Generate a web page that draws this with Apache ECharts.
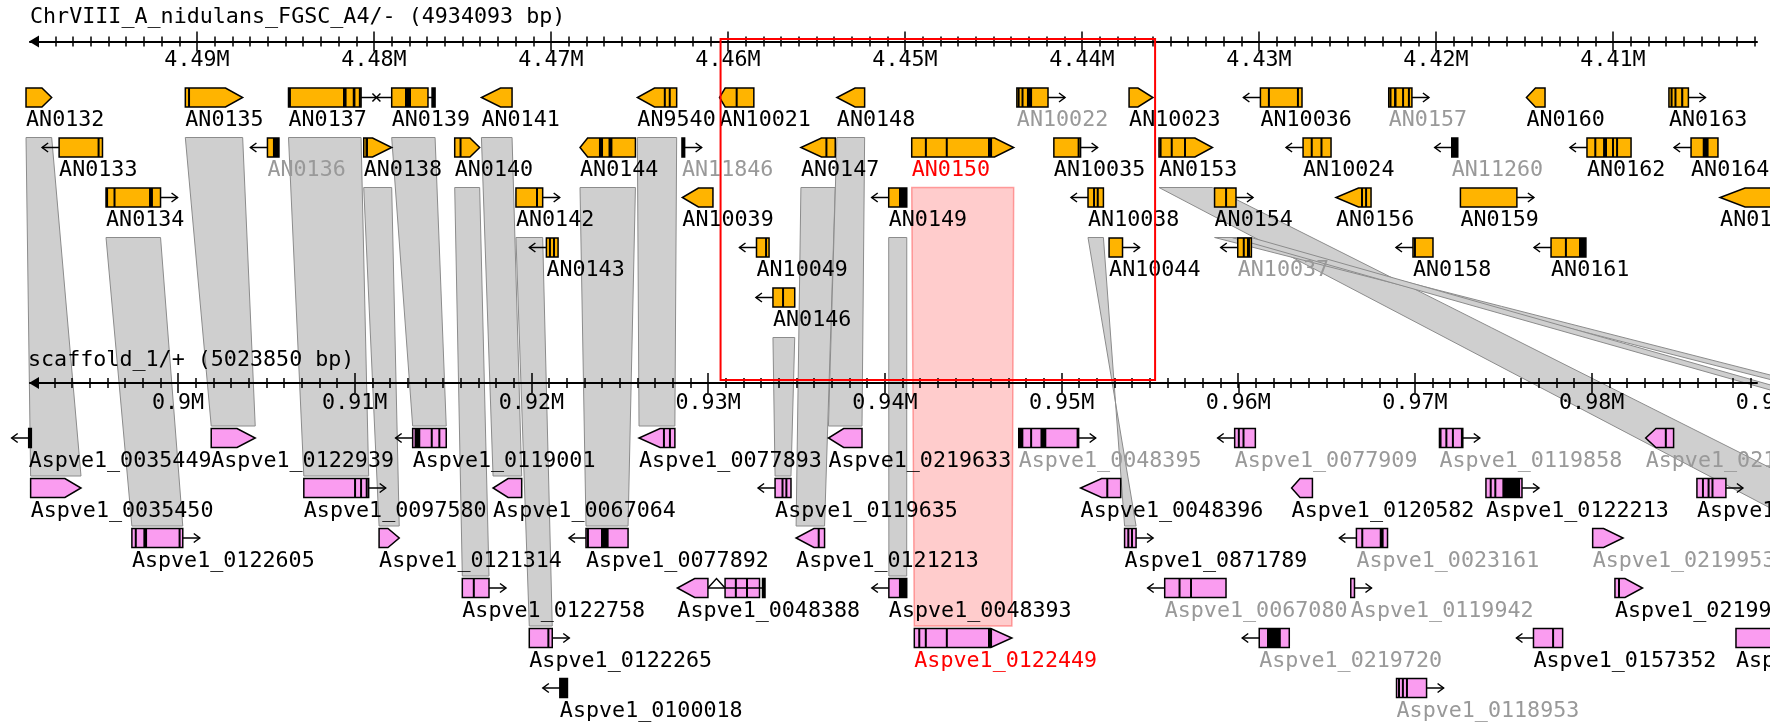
<!DOCTYPE html>
<html><head><meta charset="utf-8">
<script src="https://cdn.jsdelivr.net/npm/echarts@6/dist/echarts.min.js"></script>
<style>html,body{margin:0;padding:0;background:#fff}#c{width:1770px;height:725px}</style>
</head><body><div id="c"></div>
<script>
// ---------------- data (positions in kb) ----------------
const topTitle = 'ChrVIII_A_nidulans_FGSC_A4/- (4934093 bp)';
const bottomTitle = 'scaffold_1/+ (5023850 bp)';
const topRange = [4401.864, 4499.435];
const bottomRange = [891.624, 989.36];
const bottomLabelRange = [891.624, 990.09];
const topTicks = [4410, 4420, 4430, 4440, 4450, 4460, 4470, 4480, 4490];
const bottomTicks = [900, 910, 920, 930, 940, 950, 960, 970, 980];
const bottomTickLabels = [900, 910, 920, 930, 940, 950, 960, 970, 980, 990];

// [name, row, tail, head, tipStart, style, marks, labelColor, extraBlocks]
const topGenes = [
 ['AN0132',1,4499.66,4498.21,4498.76,'tip',[],'k'],
 ['AN0135',1,4490.66,4487.42,4488.39,'tip',[4490.45],'k'],
 ['AN0137',1,4484.83,4480.73,null,'box',[4484.75,[4481.75,4481.55],[4481.2,4481.05],4480.8],'k'],
 ['AN0139',1,4479.0,4476.95,null,'box',[[4478.25,4477.91],[4476.72,4476.55]],'k',[[4476.72,4476.55,'l']]],
 ['AN0141',1,4472.2,4473.93,4472.85,'tip',[],'k'],
 ['AN9540',1,4462.9,4465.12,4464.15,'tip',[4463.57,4463.29],'k'],
 ['AN10021',1,4458.54,4460.48,4460.16,'tip',[4459.51],'k'],
 ['AN0148',1,4452.28,4453.85,4452.82,'tip',[],'k'],
 ['AN10022',1,4443.68,4441.92,null,'arrow',[4443.58,4443.36,[4443.11,4442.82]],'g'],
 ['AN10023',1,4437.34,4435.99,4436.84,'tip',[],'k'],
 ['AN10036',1,4427.57,4429.92,null,'arrow',[4429.44,4427.8],'k'],
 ['AN0157',1,4422.67,4421.36,null,'arrow',[4422.57,[4422.37,4422.23],4421.86,4421.53],'g'],
 ['AN0160',1,4413.84,4414.89,4414.38,'tip',[],'k'],
 ['AN0163',1,4406.84,4405.74,null,'arrow',[4406.69,4406.47,[4406.15,4406.03]],'k'],
 ['AN0133',2,4495.34,4497.79,null,'arrow',[4495.56],'k'],
 ['AN0136',2,4485.37,4486.02,null,'arrow',[[4485.71,4485.37]],'g'],
 ['AN0138',2,4480.58,4479.0,4480.08,'tip',[[4480.48,4480.34]],'k'],
 ['AN0140',2,4475.44,4474.03,4474.58,'tip',[4475.11],'k'],
 ['AN0144',2,4465.23,4468.36,4467.93,'tip',[[4467.29,4467.06],[4466.75,4466.53]],'k'],
 ['AN11846',2,4462.6,4462.45,null,'arrow',[[4462.6,4462.45]],'g'],
 ['AN0147',2,4453.94,4455.88,4454.72,'tip',[4454.44],'k'],
 ['AN0150',2,4449.62,4443.86,4444.94,'tip',[4448.82,4447.64,[4445.31,4445.08]],'r'],
 ['AN10035',2,4441.59,4440.08,null,'arrow',[4440.19],'k'],
 ['AN0153',2,4435.65,4432.63,4433.62,'tip',[4435.56,4434.93,4434.18],'k'],
 ['AN10024',2,4425.93,4427.51,null,'arrow',[4427.02,4426.47],'k'],
 ['AN11260',2,4418.77,4419.11,null,'arrow',[[4418.77,4419.11]],'g'],
 ['AN0162',2,4408.98,4411.47,null,'arrow',[4411.0,[4410.56,4410.34],4410.0,4409.77],'k'],
 ['AN0164',2,4404.07,4405.59,null,'arrow',[[4404.93,4404.6]],'k'],
 ['AN0134',3,4495.14,4492.06,null,'arrow',[4495.08,4494.66,[4492.71,4492.49]],'k'],
 ['AN0142',3,4471.98,4470.47,null,'arrow',[4470.79],'k'],
 ['AN10039',3,4460.85,4462.58,4461.67,'tip',[],'k'],
 ['AN0149',3,4449.9,4450.92,null,'arrow',[[4450.34,4449.9]],'k'],
 ['AN10038',3,4438.79,4439.66,null,'arrow',[4439.32,4439.11],'k'],
 ['AN0154',3,4432.51,4431.3,null,'arrow',[4431.86],'k'],
 ['AN0156',3,4423.67,4425.65,4424.38,'tip',[4424.18,4423.95],'k'],
 ['AN0159',3,4418.62,4415.43,null,'arrow',[],'k'],
 ['AN0165',3,4400.56,4403.95,4402.54,'tip',[],'k'],
 ['AN0143',4,4469.6,4470.26,null,'arrow',[4470.06,4469.83],'k'],
 ['AN10049',4,4457.68,4458.39,null,'arrow',[4457.85],'k'],
 ['AN10044',4,4438.47,4437.71,null,'arrow',[],'k'],
 ['AN10037',4,4430.43,4431.2,null,'arrow',[4430.86,[4430.68,4430.51]],'g'],
 ['AN0158',4,4420.17,4421.3,null,'arrow',[4421.19],'k'],
 ['AN0161',4,4411.53,4413.5,null,'arrow',[4412.66,[4411.92,4411.53]],'k'],
 ['AN0146',5,4456.23,4457.46,null,'arrow',[4456.89],'k']
];

const bottomGenes = [
 ['Aspve1_0035449',1,891.70,891.55,null,'arrow',[[891.70,891.55]],'k'],
 ['Aspve1_0122939',1,901.88,904.37,903.34,'tip',[],'k'],
 ['Aspve1_0119001',1,915.18,913.28,null,'arrow',[[913.39,913.71],914.36,914.79],'k'],
 ['Aspve1_0077893',1,928.12,926.09,927.28,'tip',[927.5,927.84],'k'],
 ['Aspve1_0219633',1,938.71,936.81,937.67,'tip',[],'k'],
 ['Aspve1_0048395',1,947.58,950.97,null,'arrow',[[947.58,947.84],948.28,[948.81,949.14],950.91],'g'],
 ['Aspve1_0077909',1,960.97,959.8,null,'arrow',[[959.98,960.09],960.3],'g'],
 ['Aspve1_0119858',1,971.39,972.71,null,'arrow',[971.45,971.78,972.15,972.66],'g'],
 ['Aspve1_0219637',1,984.64,983.06,983.64,'tip',[984.2],'g'],
 ['Aspve1_0035450',2,891.66,894.51,893.6,'tip',[],'k'],
 ['Aspve1_0097580',2,907.12,910.79,null,'arrow',[910.02,910.36,910.68],'k'],
 ['Aspve1_0067064',2,919.45,917.83,918.68,'tip',[],'k'],
 ['Aspve1_0119635',2,934.69,933.79,null,'arrow',[934.21,934.43],'k'],
 ['Aspve1_0048396',2,953.35,951.08,952.27,'tip',[952.59],'k'],
 ['Aspve1_0120582',2,964.2,963.02,963.5,'tip',[],'k'],
 ['Aspve1_0122213',2,974.02,976.06,null,'arrow',[974.29,974.55,[974.95,975.95]],'k'],
 ['Aspve1_0122215',2,985.96,987.6,null,'arrow',[986.3,986.62,986.84],'k'],
 ['Aspve1_0122605',3,897.39,900.27,null,'arrow',[897.61,[898.04,898.25],900.09],'k'],
 ['Aspve1_0121314',3,911.38,912.52,911.88,'tip',[],'k'],
 ['Aspve1_0077892',3,925.47,923.09,null,'arrow',[923.2,[923.94,924.37]],'k'],
 ['Aspve1_0121213',3,936.59,934.98,935.99,'tip',[936.26],'k'],
 ['Aspve1_0871789',3,953.57,954.22,null,'arrow',[953.78,953.99],'k'],
 ['Aspve1_0023161',3,968.45,966.69,null,'arrow',[967.02,[968.01,968.23]],'g'],
 ['Aspve1_0219953',3,980.06,981.78,980.68,'tip',[],'g'],
 ['Aspve1_0122758',4,916.09,917.6,null,'arrow',[916.74],'k'],
 ['Aspve1_0048388',4,929.99,928.26,929.24,'tip',[931.57,932.2,[933.08,933.22]],'k',[[930.96,932.91,'v'],[933.08,933.22,'l']]],
 ['Aspve1_0048393',4,941.24,940.23,null,'arrow',[[940.8,941.24]],'k'],
 ['Aspve1_0067080',4,959.31,955.84,null,'arrow',[956.68,957.33],'g'],
 ['Aspve1_0119942',4,966.37,966.58,null,'arrow',[],'g'],
 ['Aspve1_0219954',4,981.32,982.88,981.89,'tip',[981.55],'k'],
 ['Aspve1_0122265',5,919.88,921.18,null,'arrow',[920.96],'k'],
 ['Aspve1_0122449',5,941.67,947.19,946.0,'tip',[941.95,942.32,943.51,[945.84,946.07]],'r'],
 ['Aspve1_0219720',5,962.89,961.19,null,'arrow',[[961.63,962.41]],'g'],
 ['Aspve1_0157352',5,978.36,976.71,null,'arrow',[977.82],'k'],
 ['Aspve1_0157353',5,988.17,990.66,null,'box',[],'k'],
 ['Aspve1_0100018',6,922.04,921.61,null,'arrow',[[922.04,921.61]],'k'],
 ['Aspve1_0118953',6,968.96,970.66,null,'arrow',[969.1,969.32,969.55],'g']
];

// connectors between neighbouring top genes [kbA, kbB, row]
const topLinks = [[4480.73, 4479.0, 1]];

// synteny bands: [top gene | [kbA,kbB,row], bottom gene | [kbA,kbB,row], inverted]
const bands = [
 ['AN0132','Aspve1_0035450',0],
 ['AN0134','Aspve1_0122605',0],
 ['AN0135','Aspve1_0122939',0],
 ['AN0137','Aspve1_0097580',0],
 ['AN0138','Aspve1_0121314',0],
 ['AN0139','Aspve1_0119001',0],
 ['AN0140','Aspve1_0122758',0],
 ['AN0141','Aspve1_0067064',0],
 ['AN0142','Aspve1_0122265',0],
 ['AN0144','Aspve1_0077892',0],
 ['AN9540','Aspve1_0077893',0],
 ['AN0146','Aspve1_0119635',0],
 ['AN0147','Aspve1_0121213',0],
 ['AN0148','Aspve1_0219633',0],
 ['AN0149','Aspve1_0048393',0],
 ['AN10038','Aspve1_0871789',1],
 ['AN0153',[992.05,996.66,3],0],
 [[4432.51,4431.52,3],[1000.4,1001.4,1],0],
 [[4431.52,4430.45,3],[997.3,998.3,1],0]
];
const highlight = ['AN0150','Aspve1_0122449'];
const redBox = [4460.42, 4435.87];

// ---------------- styling ----------------
const FF = '"DejaVu Sans Mono", monospace';
const FS = 21.7;
const COLORS = {k:'#000000', g:'#999999', r:'#ff0000'};
const TOP_FILL = '#ffb400', BOT_FILL = '#fa9cf0';
const H = 9.5;

const topMinor = [], bottomMinor = [];
for (let v = 4402; v <= 4498; v++) topMinor.push(v);
for (let v = 893; v <= 989; v++) bottomMinor.push(v);

const fmt = v => parseFloat((v / 1000).toFixed(2)) + 'M';

function renderGene(genes, fill) {
  return function (params, api) {
    const g = genes[params.dataIndex];
    const name = g[0], row = g[1], tail = g[2], head = g[3], tip = g[4], style = g[5];
    const marks = g[6] || [], lc = g[7], extra = g[8] || [];
    const px = v => api.coord([v, row])[0];
    const yc = api.coord([tail, row])[1];
    const xt = px(tail), xh = px(head);
    const d = xh >= xt ? 1 : -1;
    const kids = [];
    const lo0 = Math.min(xt, xh), hi0 = Math.max(xt, xh);
    let minX = lo0;
    extra.forEach(b => {
      const xa = px(b[0]), xb = px(b[1]);
      const lo = Math.min(xa, xb), hi = Math.max(xa, xb);
      minX = Math.min(minX, lo);
      let j1, j2;
      if (lo >= hi0) { j1 = hi0; j2 = lo; } else { j1 = hi; j2 = lo0; }
      if (b[2] === 'v') kids.push({type:'polyline', shape:{points:[[j1,yc],[(j1+j2)/2,yc-H],[j2,yc]]}, style:{stroke:'#000',lineWidth:1.5,fill:null}});
      else kids.push({type:'line', shape:{x1:j1,y1:yc,x2:j2,y2:yc}, style:{stroke:'#000',lineWidth:1.5}});
      kids.push({type:'rect', shape:{x:lo,y:yc-H,width:hi-lo,height:2*H}, style:{fill:fill,stroke:'#000',lineWidth:1.5}});
    });
    let pts;
    if (tip != null) {
      const xs = px(tip);
      pts = [[xt,yc-H],[xs,yc-H],[xh,yc],[xs,yc+H],[xt,yc+H]];
    } else pts = [[xt,yc-H],[xh,yc-H],[xh,yc+H],[xt,yc+H]];
    kids.push({type:'polygon', shape:{points:pts}, style:{fill:fill, stroke:'#000', lineWidth:1.5}});
    marks.forEach(m => {
      if (Array.isArray(m)) {
        const a = px(m[0]), b = px(m[1]);
        kids.push({type:'rect', shape:{x:Math.min(a,b), y:yc-H, width:Math.max(Math.abs(b-a),1.5), height:2*H}, style:{fill:'#000'}});
      } else {
        const x = px(m);
        kids.push({type:'line', shape:{x1:x,y1:yc-H,x2:x,y2:yc+H}, style:{stroke:'#000', lineWidth:2}});
      }
    });
    if (style === 'arrow') {
      const x1 = xh + d * 17;
      kids.push({type:'line', shape:{x1:xh,y1:yc,x2:x1,y2:yc}, style:{stroke:'#000',lineWidth:1.5}});
      kids.push({type:'polyline', shape:{points:[[x1-d*6,yc-4.5],[x1,yc],[x1-d*6,yc+4.5]]}, style:{stroke:'#000',lineWidth:1.5,fill:null}});
    }
    kids.push({type:'text', style:{text:name, x:minX, y:yc+23, font:FS + 'px ' + FF, fill:COLORS[lc],
      textAlign:'left', textVerticalAlign:'middle', align:'left', verticalAlign:'middle'}});
    return {type:'group', children:kids};
  };
}

function mkAxis(gi, rng, inv, off, o) {
  return Object.assign({type:'value', gridIndex:gi, min:rng[0], max:rng[1], inverse:inv, position:'top', offset:off, z:2,
    splitLine:{show:false}, axisLine:{show:false, onZero:false}, axisTick:{show:false}, axisLabel:{show:false}}, o);
}
const tickStyle = {color:'#000', width:1.5};
const lineAx = {show:true, onZero:false, symbol:['triangle','none'], symbolSize:[12,10], symbolOffset:[4,0], lineStyle:{color:'#000', width:2}};
const labelStyle = {show:true, inside:true, margin:8, formatter:fmt, color:'#000', fontFamily:FF, fontSize:FS};

const gTop = {left:30, top:47.5, width:1727, height:300, outerBoundsMode:'none', containLabel:false};
const gBot = {left:30, top:388, width:1727, height:300, outerBoundsMode:'none', containLabel:false};
const gBotWide = {left:30, top:388, width:1740, height:300, outerBoundsMode:'none', containLabel:false};

const xAxis = [
  mkAxis(0, topRange, true, 6, {axisLine:lineAx, axisTick:{show:true, inside:false, length:10, customValues:topTicks, lineStyle:tickStyle}}),
  mkAxis(1, topRange, true, 6, {axisTick:{show:true, inside:true, length:10, customValues:topTicks, lineStyle:tickStyle},
    axisLabel:Object.assign({customValues:topTicks}, labelStyle)}),
  mkAxis(2, topRange, true, 6, {axisTick:{show:true, inside:false, length:5, customValues:topMinor, lineStyle:tickStyle}}),
  mkAxis(3, topRange, true, 6, {axisTick:{show:true, inside:true, length:5, customValues:topMinor, lineStyle:tickStyle}}),
  mkAxis(4, bottomRange, false, 5, {axisLine:lineAx, axisTick:{show:true, inside:false, length:10, customValues:bottomTicks, lineStyle:tickStyle}}),
  mkAxis(5, bottomLabelRange, false, 5, {axisTick:{show:true, inside:true, length:10, customValues:bottomTicks, lineStyle:tickStyle},
    axisLabel:Object.assign({customValues:bottomTickLabels}, labelStyle, {margin:9})}),
  mkAxis(6, bottomRange, false, 5, {axisTick:{show:true, inside:false, length:5, customValues:bottomMinor, lineStyle:tickStyle}}),
  mkAxis(7, bottomRange, false, 5, {axisTick:{show:true, inside:true, length:5, customValues:bottomMinor, lineStyle:tickStyle}})
];
const yAxis = [0,1,2,3,4,5,6,7].map(i => ({type:'value', gridIndex:i, min:0, max:6, inverse:true, show:false}));

let bandPolys = [];

const option = {
  animation:false,
  backgroundColor:'#ffffff',
  title:[
    {text:topTitle, left:30, top:5, padding:0, textStyle:{fontFamily:FF, fontSize:FS, fontWeight:'normal', color:'#000', lineHeight:24}},
    {text:bottomTitle, left:28, top:348, padding:0, textStyle:{fontFamily:FF, fontSize:FS, fontWeight:'normal', color:'#000', lineHeight:24}}
  ],
  grid:[gTop,gTop,gTop,gTop,gBot,gBotWide,gBot,gBot],
  xAxis:xAxis,
  yAxis:yAxis,
  series:[
    {id:'bands', type:'custom', coordinateSystem:'none', z:1, silent:true, data:[],
      renderItem:(params) => {
        const b = bandPolys[params.dataIndex];
        return {type:'polygon', shape:{points:b.pts},
          style: b.hl ? {fill:'rgba(255,0,0,0.2)', stroke:'rgba(255,60,60,0.45)', lineWidth:1.5}
                      : {fill:'#cfcfcf', stroke:'#8c8c8c', lineWidth:1}};
      }},
    {id:'links', type:'custom', xAxisIndex:0, yAxisIndex:0, z:3, silent:true,
      data:topLinks.map(l => [l[0], l[2]]),
      renderItem:(params, api) => {
        const l = topLinks[params.dataIndex];
        const a = api.coord([l[0], l[2]]), b = api.coord([l[1], l[2]]);
        const m = (a[0] + b[0]) / 2, y = a[1];
        return {type:'group', children:[
          {type:'line', shape:{x1:a[0],y1:y,x2:b[0],y2:y}, style:{stroke:'#000',lineWidth:1.5}},
          {type:'line', shape:{x1:m-4,y1:y-4,x2:m+4,y2:y+4}, style:{stroke:'#000',lineWidth:1.5}},
          {type:'line', shape:{x1:m-4,y1:y+4,x2:m+4,y2:y-4}, style:{stroke:'#000',lineWidth:1.5}}
        ]};
      }},
    {id:'topGenes', type:'custom', xAxisIndex:0, yAxisIndex:0, z:4, silent:true,
      data:topGenes.map(g => [g[2], g[1]]), encode:{x:0, y:1}, renderItem:renderGene(topGenes, TOP_FILL)},
    {id:'bottomGenes', type:'custom', xAxisIndex:4, yAxisIndex:4, z:4, silent:true,
      data:bottomGenes.map(g => [g[2], g[1]]), encode:{x:0, y:1}, renderItem:renderGene(bottomGenes, BOT_FILL)},
    {id:'redBox', type:'custom', xAxisIndex:0, yAxisIndex:0, z:6, silent:true,
      data:[[redBox[0], 0]],
      renderItem:(params, api) => {
        const p1 = api.coord([redBox[0], -0.17]), p2 = api.coord([redBox[1], 6.65]);
        return {type:'rect', shape:{x:Math.min(p1[0],p2[0]), y:p1[1], width:Math.abs(p2[0]-p1[0]), height:p2[1]-p1[1]},
          style:{fill:null, stroke:'#ff0000', lineWidth:2}};
      }}
  ]
};

const chart = echarts.init(document.getElementById('c'), null, {renderer:'canvas', width:1770, height:725});
chart.setOption(option);

const TOPF = {xAxisIndex:0, yAxisIndex:0}, BOTF = {xAxisIndex:4, yAxisIndex:4};
function spanOf(spec, genes) {
  if (typeof spec === 'string') {
    const g = genes.find(x => x[0] === spec);
    const vals = [g[2], g[3]];
    (g[8] || []).forEach(b => vals.push(b[0], b[1]));
    return [Math.min.apply(null, vals), Math.max.apply(null, vals), g[1]];
  }
  return spec;
}
function poly(topSpec, botSpec, inv) {
  const t = spanOf(topSpec, topGenes), b = spanOf(botSpec, bottomGenes);
  const ty = t[2] + 0.8, by = b[2] - 0.24;
  const tA = chart.convertToPixel(TOPF, [t[0], ty]), tB = chart.convertToPixel(TOPF, [t[1], ty]);
  const bA = chart.convertToPixel(BOTF, [b[0], by]), bB = chart.convertToPixel(BOTF, [b[1], by]);
  const tl = tA[0] < tB[0] ? tA : tB, tr = tA[0] < tB[0] ? tB : tA;
  const bl = bA[0] < bB[0] ? bA : bB, br = bA[0] < bB[0] ? bB : bA;
  return inv ? [tl, tr, bl, br] : [tl, tr, br, bl];
}
bandPolys = bands.map(b => ({pts: poly(b[0], b[1], b[2]), hl:false}));
bandPolys.push({pts: poly(highlight[0], highlight[1], 0), hl:true});
chart.setOption({series:[{id:'bands', data: bandPolys.map((p, i) => [i])}]});
</script></body></html>
